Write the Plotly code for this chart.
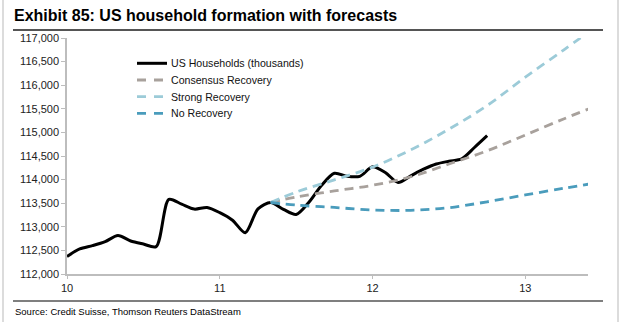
import plotly.graph_objects as go

# ---- data ----
hist_x = [10 + i / 12 for i in range(34)]
hist_y = [112370, 112530, 112600, 112685, 112815, 112700, 112635, 112580,
          113580, 113480, 113375, 113410, 113300, 113140, 112875, 113380,
          113515, 113370, 113260, 113520, 113880, 114133, 114070, 114070,
          114270, 114150, 113940, 114080, 114220, 114330, 114390, 114440,
          114680, 114930]

fc_x = [11.3333, 11.5, 11.75, 12.0, 12.25, 12.5, 12.75, 13.0, 13.25, 13.4167]
consensus = [113515, 113630, 113760, 113880, 114060, 114330, 114610, 114945, 115285, 115500]
strong = [113515, 113735, 113995, 114265, 114630, 115070, 115570, 116170, 116745, 117130]
norec = [113515, 113460, 113410, 113355, 113350, 113405, 113530, 113675, 113815, 113905]

series_names = ["US Households (thousands)", "Consensus Recovery", "Strong Recovery", "No Recovery"]
series_colors = ["#000000", "#a8a19c", "#9ccbd8", "#4a9cbc"]

y_ticks = [112000, 112500, 113000, 113500, 114000, 114500, 115000, 115500, 116000, 116500, 117000]
x_ticks = [10, 11, 12, 13]
x_tick_labels = ["10", "11", "12", "13"]

FONT = "Liberation Sans, Arial, sans-serif"
DASH = "9px,6px"

fig = go.Figure()
fig.add_trace(go.Scatter(x=hist_x, y=hist_y, mode="lines", name=series_names[0],
                         line=dict(color=series_colors[0], width=3, shape="spline", smoothing=0.8)))
for name, col, vals in zip(series_names[1:], series_colors[1:], [consensus, strong, norec]):
    fig.add_trace(go.Scatter(x=fc_x, y=vals, mode="lines", name=name,
                             line=dict(color=col, width=2.8, dash=DASH, shape="spline")))

L, R, T, B = 67, 34, 38, 48
W, H = 622, 322
pw, ph = W - L - R, H - T - B

def px(x):
    return (x - L) / pw

def py(y):
    return (H - B - y) / ph

shapes = [
    dict(type="line", xref="paper", yref="paper", x0=px(13), x1=px(603), y0=py(30), y1=py(30),
         line=dict(color="#555555", width=2)),
    dict(type="line", xref="paper", yref="paper", x0=px(13), x1=px(603), y0=py(301), y1=py(301),
         line=dict(color="#555555", width=1.5)),
    dict(type="line", xref="paper", yref="paper", x0=px(618), x1=px(618), y0=py(0), y1=py(322),
         line=dict(color="#d0d0d0", width=1.5)),
    dict(type="line", xref="paper", yref="paper", x0=px(3), x1=px(3), y0=py(0), y1=py(322),
         line=dict(color="#d0d0d0", width=1.5)),
]
annotations = [
    dict(text="<b>Exhibit 85: US household formation with forecasts</b>", xref="paper", yref="paper",
         x=px(12), y=py(15), xanchor="left", yanchor="middle", showarrow=False,
         font=dict(family=FONT, size=16, color="#000000")),
    dict(text="Source: Credit Suisse, Thomson Reuters DataStream", xref="paper", yref="paper",
         x=px(13), y=py(311), xanchor="left", yanchor="middle", showarrow=False,
         font=dict(family=FONT, size=9.5, color="#000000")),
]

# manual legend (compact row spacing as in the original)
leg_rows = [63.3, 80, 96.7, 113.3]
for i, (name, col) in enumerate(zip(series_names, series_colors)):
    yy = py(leg_rows[i])
    shapes.append(dict(type="line", xref="paper", yref="paper", x0=px(137), x1=px(167 if i == 0 else 164),
                       y0=yy, y1=yy,
                       line=dict(color=col, width=3 if i == 0 else 2.8, dash=None if i == 0 else "9px,8px")))
    annotations.append(dict(text=name, xref="paper", yref="paper", x=px(169), y=yy,
                            xanchor="left", yanchor="middle", showarrow=False,
                            font=dict(family=FONT, size=10.6, color="#111111")))

fig.update_layout(
    width=W, height=H,
    margin=dict(l=L, r=R, t=T, b=B),
    paper_bgcolor="white", plot_bgcolor="white",
    font=dict(family=FONT, size=11, color="#222222"),
    showlegend=False,
    xaxis=dict(range=[10, 13.41], tickmode="array", tickvals=x_ticks, ticktext=x_tick_labels,
               showgrid=False, zeroline=False, showline=True, linecolor="#bdbdbd", linewidth=1.5,
               ticks="outside", ticklen=3, tickcolor="#bdbdbd", tickfont=dict(size=11)),
    yaxis=dict(range=[112000, 117000], tickmode="array", tickvals=y_ticks,
               tickformat=",d", showgrid=False, zeroline=False, showline=True,
               linecolor="#bdbdbd", linewidth=1.5, ticks="outside", ticklen=4,
               tickcolor="#bdbdbd", tickfont=dict(size=11)),
    shapes=shapes,
    annotations=annotations,
)

fig.write_html("out.html")
